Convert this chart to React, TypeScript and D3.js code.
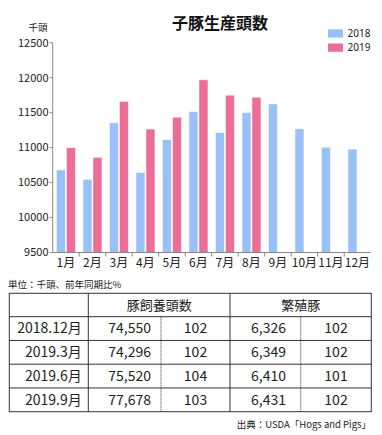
import React from "react";
import * as d3 from "d3";

const months = ["1月","2月","3月","4月","5月","6月","7月","8月","9月","10月","11月","12月"];
const series2018 = [10680,10545,11355,10645,11115,11515,11215,11500,11625,11270,11005,10980];
const series2019: (number|null)[] = [11000,10860,11660,11265,11435,11970,11750,11720,null,null,null,null];
const yTicks = [9500,10000,10500,11000,11500,12000,12500];
const seriesNames = ["2018","2019"];
const colors = ["#99c1f8","#ec6d96"];

const tableHeaders = ["豚飼養頭数","繁殖豚"];
const rowLabels = ["2018.12月","2019.3月","2019.6月","2019.9月"];
const hogCounts = ["74,550","74,296","75,520","77,678"];
const hogRatio = ["102","102","104","103"];
const sowCounts = ["6,326","6,349","6,410","6,431"];
const sowRatio = ["102","102","101","102"];

const FONT = "'Noto Sans CJK JP', 'Noto Sans', sans-serif";

export default function App() {
  const W = 382, H = 435;
  const x0 = 52.7, x1 = 370.7, yTop = 42.7, yBot = 252.5;
  const x = d3.scaleBand<string>().domain(months).range([x0, x1]).padding(0);
  const xi = d3.scaleBand<string>().domain(seriesNames).range([0, x.bandwidth()]).paddingInner(0).paddingOuter(0.325);
  const y = d3.scaleLinear().domain([9500, 12500]).range([yBot, yTop]);

  // table geometry
  const tL = 9.3, tR = 371.3, tTop = 293.3, hdrB = 316.7;
  const rowH = (411.7 - hdrB) / 4;
  const cA = 88.3, cB = 161, cC = 230, cD = 300.7;

  const bars: React.ReactNode[] = [];
  months.forEach((m, i) => {
    [series2018, series2019].forEach((s, k) => {
      const v = s[i];
      if (v == null) return;
      const bx = (x(m) as number) + (xi(seriesNames[k]) as number);
      bars.push(
        <rect key={m + k} x={bx + 0.5} y={y(v)} width={xi.bandwidth() - 1} height={yBot - y(v)}
          fill={colors[k]} stroke="#ffffff" strokeOpacity={0.55} strokeWidth={1} />
      );
    });
  });

  return (
    <svg width={W} height={H} style={{ position: "absolute", left: 0, top: 0, background: "#fff" }} fontFamily={FONT}>
      <text x={220} y={29} textAnchor="middle" fontSize={16} fontWeight="bold" fill="#111">子豚生産頭数</text>
      <text x={38} y={31} textAnchor="middle" fontSize={9.5} fill="#222">千頭</text>
      {/* legend */}
      {seriesNames.map((n, k) => (
        <g key={n}>
          <rect x={328} y={29.3 + k * 14.2} width={15} height={8.3} fill={colors[k]} />
          <text x={347.5} y={33.5 + k * 14.2} dy="0.35em" fontSize={10} fontFamily="'Noto Sans', sans-serif" fill="#222">{n}</text>
        </g>
      ))}
      {/* y axis */}
      <line x1={x0} x2={x0} y1={yTop} y2={yBot} stroke="#888" strokeWidth={1} />
      {yTicks.map(t => (
        <g key={t}>
          <line x1={x0 - 3} x2={x0} y1={y(t)} y2={y(t)} stroke="#888" />
          <text x={48.5} y={y(t)} dy="0.35em" textAnchor="end" fontSize={11} fill="#222">{t}</text>
        </g>
      ))}
      {bars}
      {/* x axis */}
      <line x1={x0} x2={x1} y1={yBot} y2={yBot} stroke="#888" strokeWidth={1} />
      {months.map((m, i) => (
        <g key={m}>
          {i > 0 && <line x1={x(m) as number} x2={x(m) as number} y1={yBot} y2={yBot + 4} stroke="#888" />}
          <text x={(x(m) as number) + x.bandwidth() / 2} y={yBot + 10.5} dy="0.35em" textAnchor="middle" fontSize={12} fill="#222">{m}</text>
        </g>
      ))}
      {/* table */}
      <text x={8} y={287.5} fontSize={9.5} fill="#222">単位：千頭、前年同期比%</text>
      <rect x={tL} y={tTop} width={tR - tL} height={411.7 - tTop} fill="none" stroke="#333" strokeWidth={1} />
      <line x1={cA} x2={cA} y1={tTop} y2={411.7} stroke="#333" />
      <line x1={cC} x2={cC} y1={tTop} y2={411.7} stroke="#333" />
      <line x1={cB} x2={cB} y1={hdrB} y2={411.7} stroke="#333" strokeDasharray="1,1" />
      <line x1={cD} x2={cD} y1={hdrB} y2={411.7} stroke="#333" strokeDasharray="1,1" />
      <line x1={tL} x2={tR} y1={hdrB} y2={hdrB} stroke="#333" />
      {rowLabels.map((_, r) => r > 0 && (
        <line key={r} x1={tL} x2={tR} y1={hdrB + r * rowH} y2={hdrB + r * rowH} stroke="#333" />
      ))}
      <text x={(cA + cC) / 2} y={(tTop + hdrB) / 2} dy="0.35em" textAnchor="middle" fontSize={13} fill="#222">{tableHeaders[0]}</text>
      <text x={(cC + tR) / 2} y={(tTop + hdrB) / 2} dy="0.35em" textAnchor="middle" fontSize={13} fill="#222">{tableHeaders[1]}</text>
      {rowLabels.map((lab, r) => {
        const cy = hdrB + r * rowH + rowH / 2;
        return (
          <g key={lab} fontSize={14} fill="#222">
            <text x={81.7} y={cy} dy="0.35em" textAnchor="end">{lab}</text>
            <text x={151} y={cy} dy="0.35em" textAnchor="end">{hogCounts[r]}</text>
            <text x={(cB + cC) / 2} y={cy} dy="0.35em" textAnchor="middle">{hogRatio[r]}</text>
            <text x={286} y={cy} dy="0.35em" textAnchor="end">{sowCounts[r]}</text>
            <text x={(cD + tR) / 2} y={cy} dy="0.35em" textAnchor="middle">{sowRatio[r]}</text>
          </g>
        );
      })}
      <text x={371} y={428} textAnchor="end" fontSize={9.5} fill="#222">出典：USDA「Hogs and Pigs」</text>
    </svg>
  );
}
